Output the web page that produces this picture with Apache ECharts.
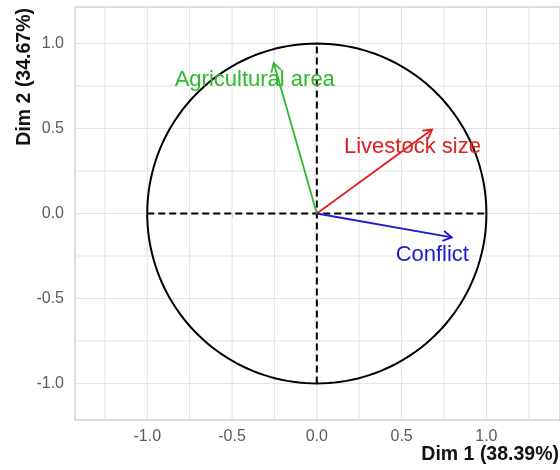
<!DOCTYPE html>
<html><head><meta charset="utf-8">
<script src="https://cdn.jsdelivr.net/npm/echarts@6/dist/echarts.min.js"></script>
<style>html,body{margin:0;padding:0;background:#fff}#c{width:560px;height:470px}</style>
</head><body><div id="c"></div>
<script>
const variables = ['Agricultural area', 'Livestock size', 'Conflict'];
const dim1 = [-0.254, 0.680, 0.796];
const dim2 = [0.886, 0.494, -0.141];
const labelDim1 = [-0.366, 0.564, 0.681];
const labelDim2 = [0.784, 0.392, -0.245];
const tickValues = [-1, -0.5, 0, 0.5, 1];
const xGridValues = [-1.25, -1, -0.75, -0.5, -0.25, 0, 0.25, 0.5, 0.75, 1, 1.25];
const yGridValues = [-1, -0.75, -0.5, -0.25, 0, 0.25, 0.5, 0.75, 1];
const xTitle = 'Dim 1 (38.39%)';
const yTitle = 'Dim 2 (34.67%)';

const colors = ['#2db82d', '#e02020', '#1c1ccc'];
const FONT = '"Liberation Sans", Arial, sans-serif';

const chart = echarts.init(document.getElementById('c'), null, {renderer: 'canvas'});

function vGrid(params, api) {
  const cs = params.coordSys;
  const x = api.coord([api.value(0), 0])[0];
  return {type: 'line', shape: {x1: x, y1: cs.y, x2: x, y2: cs.y + cs.height},
    style: {stroke: '#e3e3e3', lineWidth: 1}, silent: true};
}
function hGrid(params, api) {
  const cs = params.coordSys;
  const y = api.coord([0, api.value(1)])[1];
  return {type: 'line', shape: {x1: cs.x, y1: y, x2: cs.x + cs.width, y2: y},
    style: {stroke: '#e3e3e3', lineWidth: 1}, silent: true};
}
function circleAndAxes(params, api) {
  const pts = [];
  for (let a = 0; a < 360; a += 2) {
    const r = a * Math.PI / 180;
    pts.push(api.coord([Math.cos(r), Math.sin(r)]));
  }
  const l = api.coord([-1, 0]), rr = api.coord([1, 0]);
  const b = api.coord([0, -1]), t = api.coord([0, 1]);
  return {type: 'group', children: [
    {type: 'polygon', shape: {points: pts}, style: {fill: 'none', stroke: '#000', lineWidth: 2}},
    {type: 'line', shape: {x1: l[0], y1: l[1], x2: rr[0], y2: rr[1]}, style: {stroke: '#000', lineWidth: 2, lineDash: [7, 4]}},
    {type: 'line', shape: {x1: b[0], y1: b[1], x2: t[0], y2: t[1]}, style: {stroke: '#000', lineWidth: 2, lineDash: [7, 4]}}
  ]};
}
function arrow(params, api) {
  const i = params.dataIndex;
  const o = api.coord([0, 0]);
  const p = api.coord([api.value(0), api.value(1)]);
  const lp = api.coord([api.value(2), api.value(3)]);
  const ang = Math.atan2(p[1] - o[1], p[0] - o[0]);
  const L = 10, A = Math.PI / 6;
  const h1 = [p[0] - L * Math.cos(ang - A), p[1] - L * Math.sin(ang - A)];
  const h2 = [p[0] - L * Math.cos(ang + A), p[1] - L * Math.sin(ang + A)];
  const c = colors[i];
  return {type: 'group', children: [
    {type: 'line', shape: {x1: o[0], y1: o[1], x2: p[0], y2: p[1]}, style: {stroke: c, lineWidth: 1.8}},
    {type: 'polyline', shape: {points: [h1, p, h2]}, style: {fill: 'none', stroke: c, lineWidth: 1.8}},
    {type: 'text', x: lp[0], y: lp[1], style: {text: variables[i], fill: c, font: '22px ' + FONT, align: 'center', verticalAlign: 'middle'}}
  ]};
}

const option = {
  animation: false,
  backgroundColor: '#fff',
  grid: {left: 75, top: 7, right: -3, bottom: 50, show: true, borderColor: '#b8b8b8', borderWidth: 1},
  xAxis: {
    type: 'value', min: -1.426, max: 1.434,
    axisLine: {show: false},
    axisTick: {show: true, customValues: tickValues, length: 4, lineStyle: {color: '#b0b0b0'}},
    axisLabel: {customValues: tickValues, formatter: v => v.toFixed(1), fontSize: 16, color: '#5a5a5a', fontFamily: FONT, margin: 9},
    splitLine: {show: false}
  },
  yAxis: {
    type: 'value', min: -1.215, max: 1.215,
    axisLine: {show: false},
    axisTick: {show: true, customValues: tickValues, length: 4, lineStyle: {color: '#b0b0b0'}},
    axisLabel: {customValues: tickValues, formatter: v => v.toFixed(1), fontSize: 16, color: '#5a5a5a', fontFamily: FONT, margin: 11},
    splitLine: {show: false}
  },
  series: [
    {type: 'custom', renderItem: vGrid, data: xGridValues.map(v => [v, 0]), z: 1, silent: true},
    {type: 'custom', renderItem: hGrid, data: yGridValues.map(v => [0, v]), z: 1, silent: true},
    {type: 'custom', renderItem: circleAndAxes, data: [[0, 0]], z: 2, silent: true},
    {type: 'custom', renderItem: arrow, data: dim1.map((x, i) => [x, dim2[i], labelDim1[i], labelDim2[i]]), z: 3, silent: true}
  ],
  graphic: [
    {type: 'text', right: 1, top: 445, style: {text: xTitle, font: 'bold 19.5px ' + FONT, fill: '#111'}},
    {type: 'text', x: 25, y: 8, rotation: Math.PI / 2, style: {text: yTitle, font: 'bold 19.5px ' + FONT, fill: '#111', align: 'right', verticalAlign: 'middle'}}
  ]
};
chart.setOption(option);
</script>
</body></html>
